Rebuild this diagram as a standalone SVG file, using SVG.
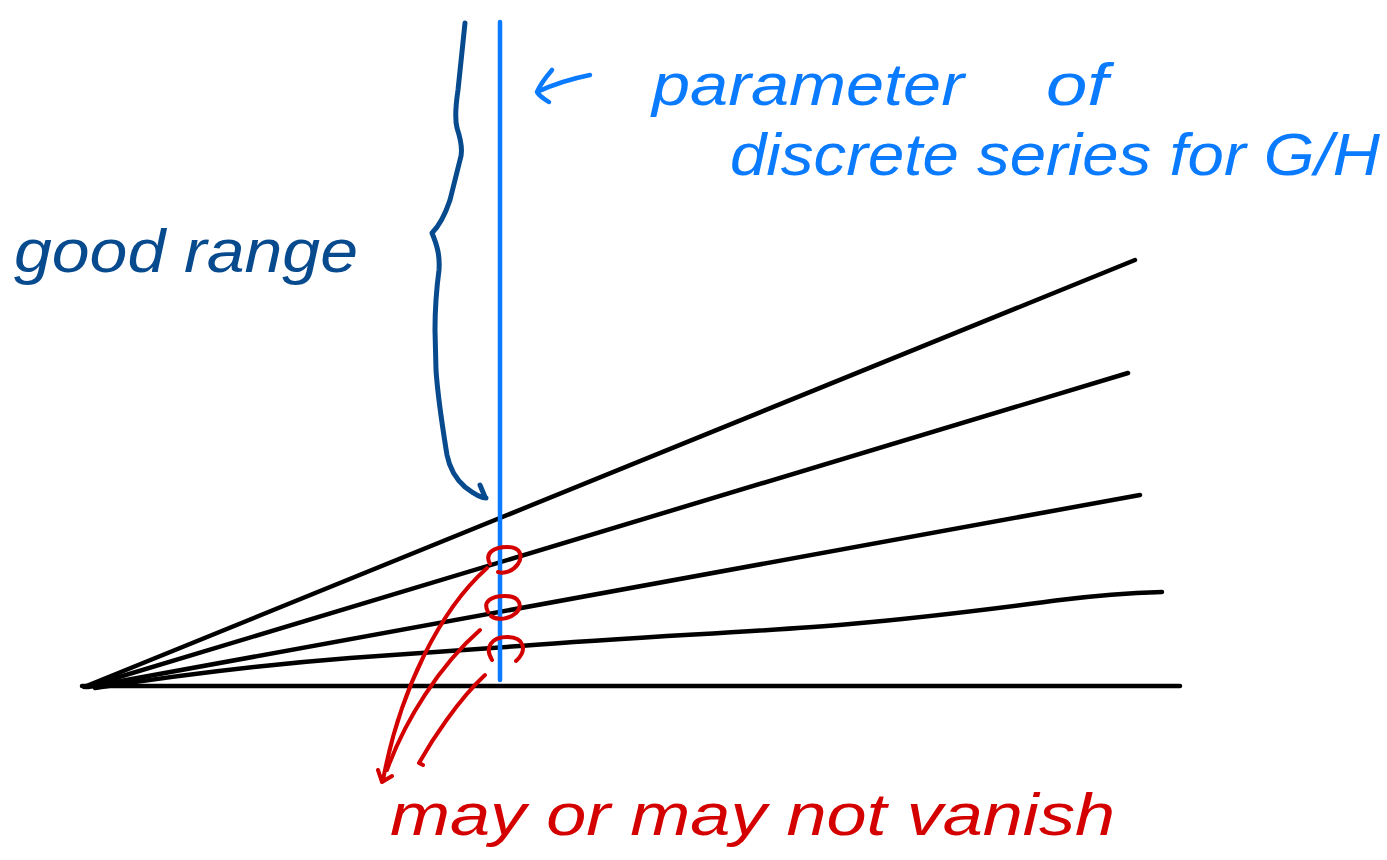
<svg xmlns="http://www.w3.org/2000/svg" width="1387" height="860" viewBox="0 0 1387 860">
<style>
.ink{fill:none;stroke-linecap:round;stroke-linejoin:round}
.blk{stroke:#000;stroke-width:4.5}
.lb{stroke:#0a7bff;stroke-width:4.5}
.db{stroke:#084a8e;stroke-width:5}
.rd{stroke:#d40000;stroke-width:4}
.t{font-family:"Liberation Sans","DejaVu Sans",sans-serif;font-style:italic}
</style>
<rect width="1387" height="860" fill="#fff"/>
<g id="axes">
<path class="ink blk" d="M82 686 L1180 686"/>
<path class="ink blk" d="M84 687 L1135 260"/>
<path class="ink blk" d="M86 687 L1128 373"/>
<path class="ink blk" d="M88 687 L1140 495"/>
<path class="ink blk" d="M95 688 C180 675 260 665 350 658 C420 653 470 650 520 646 C650 636 760 632 850 624 C950 615 1020 605 1060 600 C1100 595 1130 593 1162 592"/>
</g>
<g id="parameter-line">
<path class="ink lb" d="M500 22 L500 680"/>
<path class="ink lb" d="M590 75 C570 79 552 85 537 92 M552 70 C546 77 540 85 537 92 C540 97 546 100 549 102"/>
</g>
<g id="brace">
<path class="ink db" d="M465 23 L458 90 C455 110 455 120 457 128 C461 140 463 152 460 160 L450 200 C445 215 440 225 432 233 C437 245 440 255 439 270 C437 285 435 300 435 330 L436 370 C438 400 443 430 447 455 C450 470 457 480 465 487 C474 494 482 498 486 498 M485 497 L480 485"/>
</g>
<g id="label-good-range">
<text class="t" x="14" y="272" font-size="62" fill="#084a8e" textLength="344" lengthAdjust="spacingAndGlyphs">good range</text>
</g>
<g id="label-parameter">
<text class="t" x="652" y="105" font-size="60" fill="#0a7bff" textLength="312" lengthAdjust="spacingAndGlyphs">parameter</text>
<text class="t" x="1046" y="105" font-size="60" fill="#0a7bff" textLength="62" lengthAdjust="spacingAndGlyphs">of</text>
<text class="t" x="730" y="175" font-size="60" fill="#0a7bff" textLength="650" lengthAdjust="spacingAndGlyphs">discrete series for G/H</text>
</g>
<g id="markers">
<path class="ink rd" d="M490 564 C484 553 494 547 507 547 C521 547 523 556 518 564 C513 571 505 574 498 572"/>
<path class="ink rd" d="M488 612 C482 601 492 596 505 596 C520 596 523 606 516 613 C509 619 498 621 491 616"/>
<path class="ink rd" d="M492 660 C484 647 492 637 507 637 C524 637 528 650 516 661"/>
<path class="ink rd" d="M487 568 C440 610 400 690 383 780 M378 770 L382 782 L392 776"/>
<path class="ink rd" d="M480 630 C440 665 405 720 387 770"/>
<path class="ink rd" d="M485 675 C458 700 432 740 419 763 L423 765"/>
</g>
<g id="label-vanish">
<text class="t" x="390" y="835" font-size="60" fill="#d40000" textLength="725" lengthAdjust="spacingAndGlyphs">may  or  may  not  vanish</text>
</g>
</svg>
